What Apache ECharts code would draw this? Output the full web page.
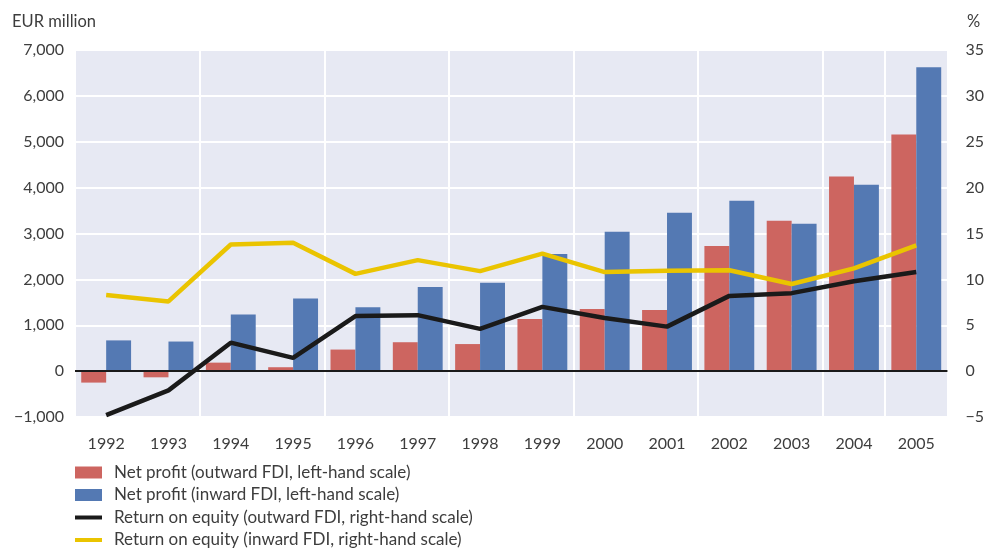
<!DOCTYPE html>
<html>
<head>
<meta charset="utf-8">
<script src="https://cdn.jsdelivr.net/npm/echarts@6/dist/echarts.min.js"></script>
<style>html,body{margin:0;padding:0;background:#fff}#c{width:987px;height:549px}</style>
</head>
<body>
<div id="c"></div>
<script>
var years = ['1992','1993','1994','1995','1996','1997','1998','1999','2000','2001','2002','2003','2004','2005'];
var outwardProfit = [-250, -135, 185, 85, 470, 630, 590, 1135, 1355, 1335, 2730, 3280, 4240, 5160];
var inwardProfit = [670, 645, 1235, 1585, 1390, 1835, 1925, 2555, 3040, 3455, 3715, 3215, 4065, 6625];
var outwardROE = [-4.8, -2.1, 3.1, 1.45, 6.0, 6.1, 4.6, 7.0, 5.8, 4.85, 8.2, 8.5, 9.8, 10.8];
var inwardROE = [8.3, 7.6, 13.8, 14.0, 10.6, 12.1, 10.9, 12.8, 10.8, 10.95, 11.0, 9.5, 11.2, 13.7];
var leftTicks = {min: -1000, max: 7000, interval: 1000};
var rightTicks = {min: -5, max: 35, interval: 5};
var names = [
  'Net profit (outward FDI, left-hand scale)',
  'Net profit (inward FDI, left-hand scale)',
  'Return on equity (outward FDI, right-hand scale)',
  'Return on equity (inward FDI, right-hand scale)'
];

var FONT = 'Lato, "Open Sans", sans-serif';
var TXT = '#3d3d3d';
var LINE_ICON = 'path://M0,0 M27,12 M0,4H27V8H0Z';
var chart = echarts.init(document.getElementById('c'), null, {renderer: 'canvas'});
chart.setOption({
  animation: false,
  textStyle: {fontFamily: FONT, color: TXT},
  grid: {left: 75, right: 38, top: 50, bottom: 132, show: true, backgroundColor: '#E7E9F3', borderWidth: 0, containLabel: false},
  graphic: [
    {type: 'text', left: 12, top: 13, style: {text: 'EUR million', fontFamily: FONT, fontSize: 16.5, fill: TXT}},
    {type: 'text', left: 967, top: 13, style: {text: '%', fontFamily: FONT, fontSize: 16.5, fill: TXT}}
  ],
  legend: {
    orient: 'vertical', left: 75, top: 464, height: 90, padding: 0,
    itemWidth: 27, itemHeight: 12, itemGap: 5.5,
    textStyle: {fontFamily: FONT, fontSize: 17, color: TXT, padding: [0, 0, 0, 7]},
    data: [
      {name: names[0], icon: 'rect'},
      {name: names[1], icon: 'rect'},
      {name: names[2], icon: LINE_ICON},
      {name: names[3], icon: LINE_ICON}
    ]
  },
  xAxis: {
    type: 'category', data: years, boundaryGap: true,
    axisLine: {show: false}, axisTick: {show: false},
    axisLabel: {fontFamily: FONT, fontSize: 16, color: TXT, margin: 19, interval: 0},
    splitLine: {show: true, interval: 1, lineStyle: {color: '#ffffff', width: 2}}
  },
  yAxis: [
    {type: 'value', min: leftTicks.min, max: leftTicks.max, interval: leftTicks.interval,
     axisLine: {show: false}, axisTick: {show: false},
     axisLabel: {fontFamily: FONT, fontSize: 16, color: TXT, margin: 11,
       formatter: function (v) { var s = Math.abs(v).toLocaleString('en-US'); return v < 0 ? '\u2212' + s : s; }},
     splitLine: {show: true, lineStyle: {color: '#ffffff', width: 2}}},
    {type: 'value', min: rightTicks.min, max: rightTicks.max, interval: rightTicks.interval,
     axisLine: {show: false}, axisTick: {show: false},
     axisLabel: {fontFamily: FONT, fontSize: 16, color: TXT, margin: 18,
       formatter: function (v) { return v < 0 ? '\u2212' + Math.abs(v) : String(v); }},
     splitLine: {show: false}}
  ],
  series: [
    {name: names[0], type: 'bar', data: outwardProfit, yAxisIndex: 0, barGap: '0%', barCategoryGap: '20%',
     itemStyle: {color: '#CD6560'},
     markLine: {silent: true, symbol: 'none', label: {show: false}, lineStyle: {color: '#1a1a1a', width: 2, type: 'solid'}, data: [{yAxis: 0}]}},
    {name: names[1], type: 'bar', data: inwardProfit, yAxisIndex: 0, barGap: '0%', barCategoryGap: '20%',
     itemStyle: {color: '#5479B3'}},
    {name: names[2], type: 'line', data: outwardROE, yAxisIndex: 1, symbol: 'none', z: 5,
     lineStyle: {color: '#1a1a1a', width: 4.5}, itemStyle: {color: '#1a1a1a'}},
    {name: names[3], type: 'line', data: inwardROE, yAxisIndex: 1, symbol: 'none', z: 4,
     lineStyle: {color: '#EAC400', width: 4.5}, itemStyle: {color: '#EAC400'}}
  ]
});
</script>
</body>
</html>
